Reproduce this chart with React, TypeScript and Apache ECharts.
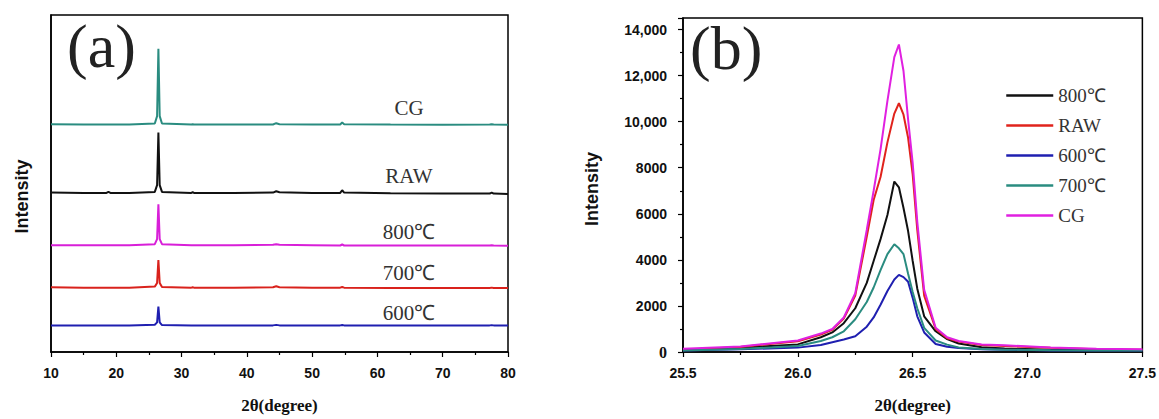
import { useEffect, useRef } from 'react';
import * as echarts from 'echarts';

// ---------- Panel (a): stacked XRD patterns (arbitrary offset units) ----------
const A_X = [10, 15, 18.5, 18.8, 19.1, 22, 25.9, 26.25, 26.45, 26.65, 27.0, 31.5, 31.7, 31.9, 38, 44.0, 44.5, 45.0, 50, 54.3, 54.6, 54.9, 62, 70, 77.2, 77.5, 77.8, 80];
const A_CG = [67.6, 67.5, 67.5, 67.5, 67.5, 67.5, 67.8, 70.0, 90.0, 70.0, 67.8, 67.5, 67.6, 67.5, 67.5, 67.5, 67.9, 67.6, 67.5, 67.5, 68.1, 67.6, 67.5, 67.4, 67.5, 67.6, 67.5, 67.4];
const A_RAW = [47.3, 47.2, 47.2, 47.5, 47.2, 47.2, 47.5, 49.5, 65.1, 49.5, 47.5, 47.2, 47.4, 47.2, 47.2, 47.3, 47.7, 47.4, 47.2, 47.2, 48.0, 47.3, 47.1, 47.0, 47.0, 47.3, 47.0, 46.9];
const A_800 = [31.7, 31.7, 31.7, 31.7, 31.7, 31.7, 32.0, 33.5, 43.8, 33.5, 32.0, 31.7, 31.7, 31.7, 31.7, 31.8, 32.0, 31.8, 31.7, 31.6, 31.9, 31.6, 31.6, 31.6, 31.6, 31.7, 31.6, 31.5];
const A_700 = [19.2, 19.1, 19.1, 19.1, 19.1, 19.1, 19.4, 20.5, 27.3, 20.5, 19.3, 19.1, 19.2, 19.1, 19.1, 19.2, 19.5, 19.2, 19.1, 19.1, 19.3, 19.1, 19.0, 19.0, 19.0, 19.1, 19.0, 19.0];
const A_600 = [7.9, 7.9, 7.9, 7.9, 7.9, 7.9, 8.1, 8.8, 13.5, 8.8, 8.0, 7.9, 7.9, 7.9, 7.9, 7.9, 8.05, 7.9, 7.9, 7.9, 8.0, 7.9, 7.9, 7.9, 7.9, 7.95, 7.9, 7.9];
const A_LABELS = ['CG', 'RAW', '800℃', '700℃', '600℃'];

// ---------- Panel (b): (002) peak detail ----------
const B_X = [25.5, 25.75, 26.0, 26.1, 26.15, 26.2, 26.25, 26.3, 26.33, 26.36, 26.39, 26.42, 26.44, 26.46, 26.48, 26.5, 26.52, 26.55, 26.6, 26.65, 26.7, 26.8, 26.9, 27.1, 27.3, 27.5];
const B_800 = [80, 180, 330, 640, 850, 1250, 1900, 3000, 3950, 4900, 5950, 7400, 7150, 6250, 5250, 3950, 2750, 1550, 900, 560, 370, 210, 150, 100, 80, 70];
const B_RAW = [100, 220, 470, 760, 960, 1450, 2450, 5000, 6600, 7600, 9100, 10350, 10800, 10300, 9300, 7700, 5300, 2450, 1000, 600, 450, 300, 260, 180, 120, 100];
const B_600 = [60, 120, 190, 300, 420, 540, 680, 1100, 1500, 2050, 2650, 3150, 3350, 3250, 3050, 2350, 1550, 850, 350, 230, 170, 120, 100, 70, 60, 60];
const B_700 = [70, 130, 260, 480, 640, 900, 1420, 2170, 2800, 3550, 4250, 4680, 4500, 4250, 3400, 2600, 1900, 1050, 500, 320, 200, 130, 100, 80, 70, 60];
const B_CG = [140, 240, 500, 800, 1000, 1500, 2550, 5300, 7000, 8800, 10900, 12800, 13350, 12200, 10100, 8200, 5650, 2700, 1050, 640, 480, 330, 290, 200, 140, 120];
const B_NAMES = ['800℃', 'RAW', '600℃', '700℃', 'CG'];

const zip = (xs: number[], ys: number[]) => xs.map((x, i) => [x, ys[i]]);

const SERIF = '"Liberation Serif", "Times New Roman", serif';
const SANS = '"Liberation Sans", Arial, sans-serif';

export default function App() {
  const ref = useRef<HTMLDivElement>(null);
  useEffect(() => {
    document.body.style.margin = '0';
    const chart = echarts.init(ref.current!, null, { renderer: 'svg' });

    const line = (name: string, data: number[][], color: string, idx: number) => ({
      name,
      type: 'line',
      data,
      xAxisIndex: idx,
      yAxisIndex: idx,
      showSymbol: false,
      symbol: 'none',
      lineStyle: { color, width: 2 },
      itemStyle: { color },
    });

    const axisCommon = {
      axisLine: { lineStyle: { color: '#000', width: 1.5 } },
      axisTick: { show: true, length: 5, lineStyle: { color: '#000', width: 1.2 } },
      minorTick: { show: true, splitNumber: 2, length: 3, lineStyle: { color: '#000', width: 1.2 } },
      splitLine: { show: false },
      minorSplitLine: { show: false },
    };

    const aColors = ['#2a8c80', '#111111', '#d81fd8', '#d9221c', '#1f1fb0'];
    const aData = [A_CG, A_RAW, A_800, A_700, A_600];
    const aLabelY = [108, 176, 232, 273, 313];

    const bColors = ['#111111', '#e0231c', '#1f1fb0', '#2a8c80', '#e020e0'];
    const bData = [B_800, B_RAW, B_600, B_700, B_CG];

    const option: any = {
      animation: false,
      grid: [
        { left: 51, top: 15, width: 457, height: 344, show: true, borderColor: '#000', borderWidth: 1.5, backgroundColor: 'transparent' },
        { left: 683, top: 18, width: 460, height: 339, show: true, borderColor: '#000', borderWidth: 1.5, backgroundColor: 'transparent' },
      ],
      xAxis: [
        {
          gridIndex: 0, type: 'value', min: 10, max: 80, interval: 10,
          ...axisCommon,
          axisLabel: { color: '#111', fontFamily: SANS, fontWeight: 'bold', fontSize: 14, margin: 14 },
          name: '2θ(degree)', nameLocation: 'middle', nameGap: 45,
          nameTextStyle: { color: '#111', fontFamily: SERIF, fontWeight: 'bold', fontSize: 17 },
        },
        {
          gridIndex: 1, type: 'value', min: 25.5, max: 27.5, interval: 0.5,
          ...axisCommon,
          axisLabel: { color: '#111', fontFamily: SANS, fontWeight: 'bold', fontSize: 14, margin: 14, formatter: (v: number) => v.toFixed(1) },
          name: '2θ(degree)', nameLocation: 'middle', nameGap: 45,
          nameTextStyle: { color: '#111', fontFamily: SERIF, fontWeight: 'bold', fontSize: 17 },
        },
      ],
      yAxis: [
        {
          gridIndex: 0, type: 'value', min: 0, max: 100,
          axisLine: { lineStyle: { color: '#000', width: 1.5 } },
          axisTick: { show: false }, axisLabel: { show: false }, splitLine: { show: false },
          name: 'Intensity', nameLocation: 'middle', nameGap: 20, nameRotate: 90,
          nameTextStyle: { color: '#111', fontFamily: SANS, fontWeight: 'bold', fontSize: 18, padding: [0, 26, 0, 0] },
        },
        {
          gridIndex: 1, type: 'value', min: 0, max: 14500, interval: 2000,
          ...axisCommon,
          axisLabel: {
            color: '#111', fontFamily: SANS, fontWeight: 'bold', fontSize: 14, margin: 16, showMaxLabel: false,
            formatter: (v: number) => (v === 0 ? '{z|0}' : v >= 10000 ? v.toLocaleString('en-US') : String(v)),
            rich: { z: { fontFamily: SERIF, fontWeight: 'bold', fontSize: 16, color: '#111' } },
          },
          name: 'Intensity', nameLocation: 'middle', nameGap: 82, nameRotate: 90,
          nameTextStyle: { color: '#111', fontFamily: SANS, fontWeight: 'bold', fontSize: 18, padding: [0, 8, 0, 0] },
        },
      ],
      legend: {
        data: B_NAMES,
        orient: 'vertical',
        left: 1000,
        top: 81,
        itemWidth: 47,
        itemHeight: 14,
        itemGap: 11,
        itemStyle: { opacity: 0 },
        lineStyle: { width: 2.5 },
        textStyle: { fontFamily: SERIF, fontSize: 19, color: '#333' },
        selectedMode: false,
      },
      series: [
        ...aData.map((d, i) => line('a-' + A_LABELS[i], zip(A_X, d), aColors[i], 0)),
        ...bData.map((d, i) => line(B_NAMES[i], zip(B_X, d), bColors[i], 1)),
      ],
      graphic: [
        { type: 'text', left: 67, top: 15, style: { text: '(a)', font: `62px ${SERIF}`, fill: '#222' } },
        { type: 'text', left: 690, top: 17, style: { text: '(b)', font: `62px ${SERIF}`, fill: '#222' } },
        ...A_LABELS.map((t, i) => ({
          type: 'text', x: 409, y: aLabelY[i],
          style: { text: t, font: `21px ${SERIF}`, fill: '#333', textAlign: 'center', textVerticalAlign: 'middle' },
        })),
      ],
    };

    chart.setOption(option);
    return () => chart.dispose();
  }, []);
  return <div ref={ref} style={{ width: 1159, height: 419 }} />;
}
